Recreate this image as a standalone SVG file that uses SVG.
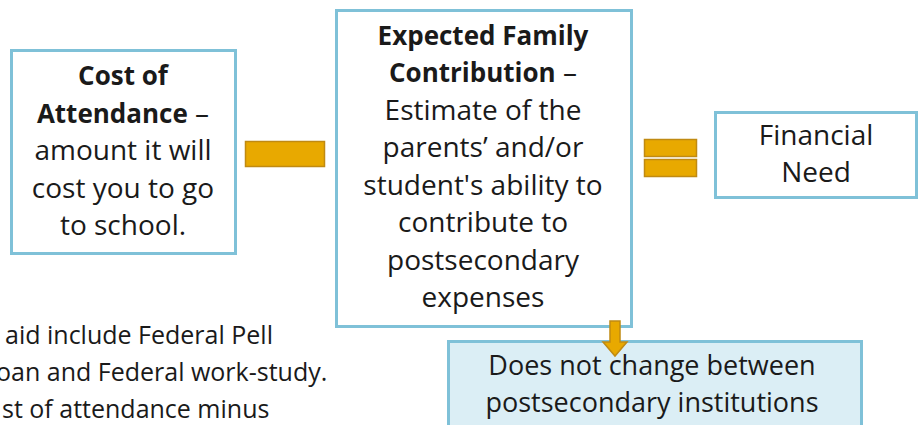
<svg xmlns="http://www.w3.org/2000/svg" width="923" height="425" viewBox="0 0 923 425">
<style>
.box{fill:#ffffff;stroke:#7fc1d8;stroke-width:3}
.note{fill:#dbeef5;stroke:#7fc1d8;stroke-width:3}
.t{font-family:"Open Sans","Noto Sans",sans-serif;font-size:28px;fill:#1a1a1a;text-anchor:middle}
.b{font-weight:bold;font-size:26px}
.side{font-family:"Open Sans","Noto Sans",sans-serif;font-size:25px;fill:#1a1a1a}
.op{fill:#e8a900;stroke:#c08a12;stroke-width:1.5}
</style>
<rect width="923" height="425" fill="#ffffff"/>
<g id="node-cost">
<rect class="box" x="11.5" y="50.5" width="224" height="203"/>
<text class="t" x="123" y="85"><tspan class="b">Cost of</tspan></text>
<text class="t" x="123" y="123"><tspan class="b">Attendance</tspan> –</text>
<text class="t" x="123" y="160">amount it will</text>
<text class="t" x="123" y="198">cost you to go</text>
<text class="t" x="123" y="235">to school.</text>
</g>
<g id="node-efc">
<rect class="box" x="336.5" y="10.5" width="295" height="316"/>
<text class="t" x="483" y="45"><tspan class="b">Expected Family</tspan></text>
<text class="t" x="483" y="82"><tspan class="b">Contribution</tspan> –</text>
<text class="t" x="483" y="120">Estimate of the</text>
<text class="t" x="483" y="157">parents’ and/or</text>
<text class="t" x="483" y="195">student's ability to</text>
<text class="t" x="483" y="232">contribute to</text>
<text class="t" x="483" y="270">postsecondary</text>
<text class="t" x="483" y="307">expenses</text>
</g>
<g id="node-need">
<rect class="box" x="715.5" y="112.5" width="201" height="85"/>
<text class="t" x="816" y="145">Financial</text>
<text class="t" x="816" y="182">Need</text>
</g>
<g id="node-note">
<rect class="note" x="448.5" y="341.5" width="413" height="100"/>
<text class="t" x="652" y="375" style="font-size:27px">Does not change between</text>
<text class="t" x="652" y="412" style="font-size:27px">postsecondary institutions</text>
</g>
<g id="side-text">
<text class="side" x="5" y="344">aid include Federal Pell</text>
<text class="side" x="-4" y="381">oan and Federal work-study.</text>
<text class="side" x="2" y="418">st of attendance minus</text>
</g>
<g id="connectors">
<rect class="op" x="245.5" y="141.5" width="79" height="25"/>
<rect class="op" x="644.5" y="139.5" width="52" height="17"/>
<rect class="op" x="644.5" y="159.5" width="52" height="17"/>
<path class="op" d="M610 321 H620 V342 H627 L615 356 L603 342 H610 Z"/>
</g>
</svg>
